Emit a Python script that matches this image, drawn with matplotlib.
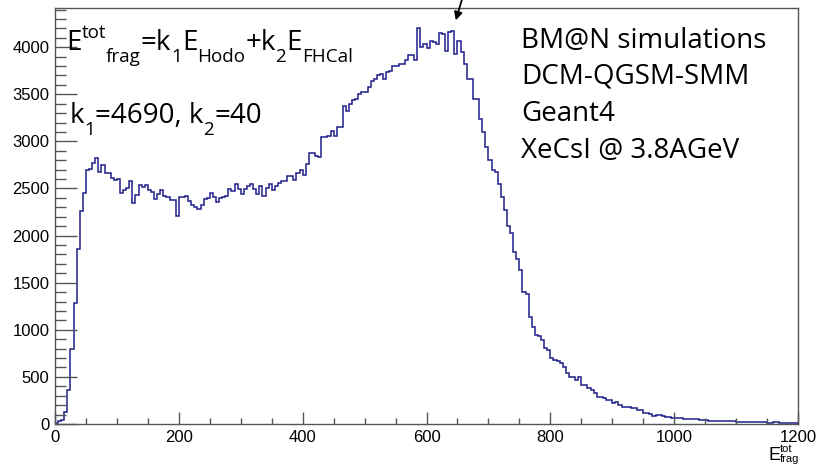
import matplotlib
matplotlib.use("Agg")
import matplotlib.pyplot as plt
from matplotlib.ticker import MultipleLocator
import numpy as np

# ---------------- data ----------------
x_min, x_max = 0, 1200
n_bins = 240
counts = [
    10, 30, 40, 124, 360, 800, 1280, 1860, 2260, 2455,
    2700, 2710, 2770, 2820, 2675, 2750, 2660, 2660, 2610, 2590,
    2600, 2455, 2480, 2510, 2580, 2350, 2430, 2535, 2515, 2540,
    2485, 2460, 2390, 2445, 2480, 2420, 2410, 2375, 2375, 2205,
    2405, 2410, 2420, 2365, 2320, 2305, 2285, 2320, 2390, 2400,
    2455, 2410, 2355, 2400, 2405, 2420, 2490, 2475, 2545, 2495,
    2440, 2495, 2530, 2550, 2495, 2440, 2530, 2420, 2510, 2545,
    2480, 2530, 2560, 2575, 2575, 2630, 2630, 2595, 2660, 2700,
    2640, 2765, 2875, 2875, 2840, 2830, 3045, 3050, 3060, 3115,
    3060, 3150, 3155, 3380, 3320, 3400, 3440, 3450, 3505, 3520,
    3520, 3575, 3645, 3665, 3700, 3715, 3665, 3735, 3750, 3795,
    3805, 3820, 3820, 3860, 3920, 3920, 3865, 4205, 4000, 4035,
    3995, 4070, 4055, 4030, 4150, 4145, 3955, 4160, 4175, 3930,
    4070, 3945, 3820, 3665, 3665, 3450, 3450, 3240, 3100, 2940,
    2800, 2700, 2675, 2550, 2410, 2268, 2100, 2030, 1827, 1756,
    1632, 1403, 1385, 1138, 1032, 943, 930, 890, 802, 784,
    696, 678, 670, 643, 608, 537, 502, 500, 466, 502,
    413, 410, 378, 360, 325, 290, 285, 272, 254, 250,
    219, 230, 201, 184, 184, 180, 166, 166, 148, 148,
    120, 120, 106, 85, 95, 95, 80, 71, 71, 68,
    67, 64, 60, 53, 55, 50, 52, 49, 45, 47,
    38, 35, 36, 33, 35, 30, 28, 30, 27, 28,
    25, 24, 26, 22, 25, 20, 18, 17, 19, 16,
    15, 14, 16, 19, 13, 12, 11, 12, 10, 9,
]
x_ticks = [0, 200, 400, 600, 800, 1000, 1200]
y_ticks = [0, 500, 1000, 1500, 2000, 2500, 3000, 3500, 4000]
y_top = 4416

# text runs: (text, kind) with kind n=normal, sub, sup
formula_runs = [("E", "n"), ("tot", "sup"), ("frag", "sub"), ("=k", "n"), ("1", "sub"),
                ("E", "n"), ("Hodo", "sub"), ("+k", "n"), ("2", "sub"),
                ("E", "n"), ("FHCal", "sub")]
coef_runs = [("k", "n"), ("1", "sub"), ("=4690, k", "n"), ("2", "sub"), ("=40", "n")]
info_lines = ["BM@N simulations", "DCM-QGSM-SMM", "Geant4", "XeCsI @ 3.8AGeV"]
xlabel_main, xlabel_sup, xlabel_sub = "E", "tot", "frag"

# ---------------- figure ----------------
W, H = 819, 466
fig = plt.figure(figsize=(W / 100, H / 100), dpi=100)
fig.patch.set_facecolor("white")
ax = fig.add_axes([55 / W, 42 / H, 743 / W, 416 / H])

edges = np.linspace(x_min, x_max, n_bins + 1)
ax.stairs(counts, edges, color="#1f1f8c", lw=1.1)

ax.set_xlim(x_min, x_max)
ax.set_ylim(0, y_top)
ax.set_xticks(x_ticks)
ax.set_yticks(y_ticks)
ax.xaxis.set_minor_locator(MultipleLocator(50))
ax.yaxis.set_minor_locator(MultipleLocator(100))

tick_font = "Liberation Sans"
ax.tick_params(axis="x", which="major", direction="in", length=8.6, width=1,
               color="#555555", pad=4, labelsize=12)
ax.tick_params(axis="x", which="minor", direction="in", length=4.3, width=1,
               color="#555555")
ax.tick_params(axis="y", which="major", direction="in", length=15.8, width=1,
               color="#555555", pad=4, labelsize=12)
ax.tick_params(axis="y", which="minor", direction="in", length=7.9, width=1,
               color="#555555")
for lab in ax.get_xticklabels() + ax.get_yticklabels():
    lab.set_fontfamily(tick_font)
for s in ax.spines.values():
    s.set_color("#555555")
    s.set_linewidth(1)

# axis label at bottom right (E with stacked sup/sub)
fig.text(769 / W, (H - 460) / H, xlabel_main, ha="left", va="baseline",
         fontsize=13, family=tick_font)
fig.text(780 / W, (H - 452) / H, xlabel_sup, ha="left", va="baseline",
         fontsize=8, family=tick_font)
fig.text(780 / W, (H - 462) / H, xlabel_sub, ha="left", va="baseline",
         fontsize=8, family=tick_font)

# annotations
txt_font = "Open Sans"
main_size = 20
renderer = fig.canvas.get_renderer()


def draw_runs(x0, base, runs):
    x = x0
    for s, kind in runs:
        fs = main_size if kind == "n" else main_size * 0.68
        dy = {"n": 0, "sub": -12, "sup": 12}[kind]
        t = fig.text(x / W, (H - base + dy) / H, s, ha="left", va="baseline",
                     fontsize=fs, family=txt_font, color="black")
        x += t.get_window_extent(renderer).width


draw_runs(66, 50, formula_runs)
draw_runs(70, 123, coef_runs)

baselines = [48, 84, 121, 158]
for line, b in zip(info_lines, baselines):
    fig.text(521 / W, (H - b) / H, line, ha="left", va="baseline",
             fontsize=main_size, family=txt_font, color="black")

# arrow pointing to the peak
ax.annotate("", xy=(455, H - 23), xycoords="figure pixels",
            xytext=(463, H + 4), textcoords="figure pixels",
            arrowprops=dict(arrowstyle="-|>", color="black", lw=1.3,
                            mutation_scale=12),
            annotation_clip=False)

fig.savefig("out.png", dpi=100, facecolor="white")
